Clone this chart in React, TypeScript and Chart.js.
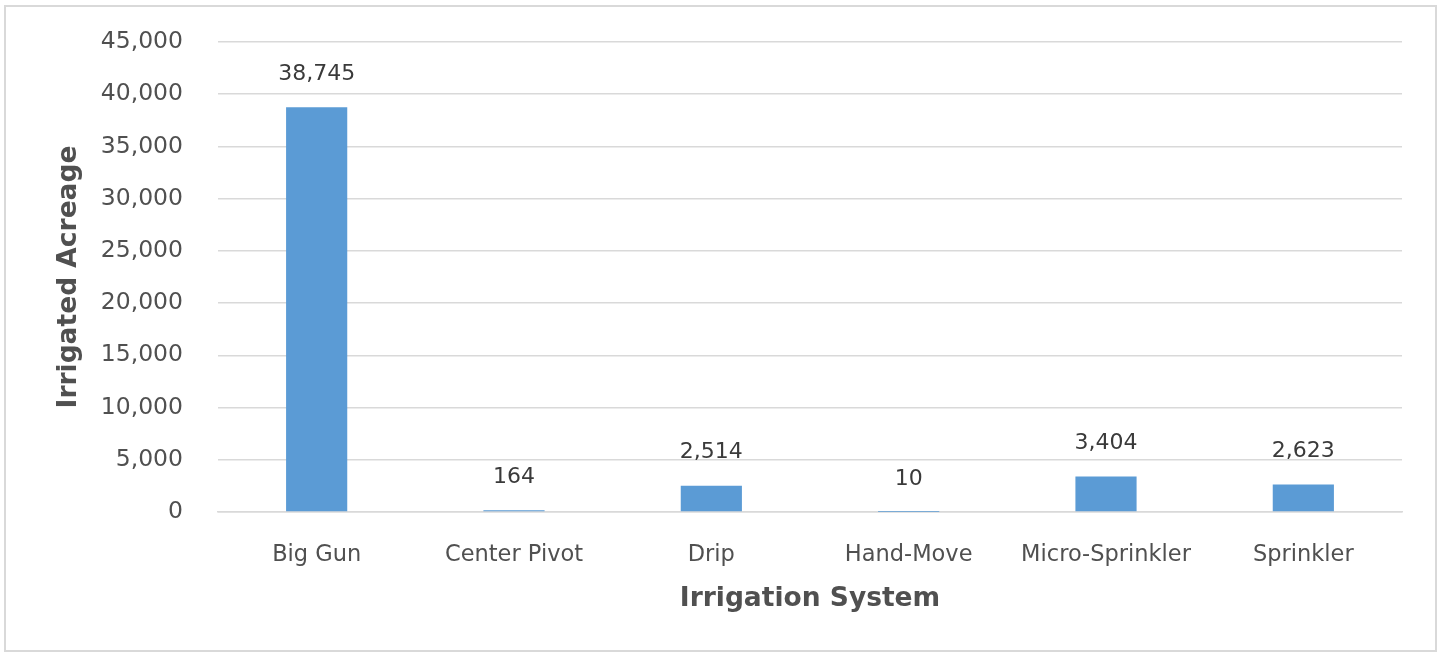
import React, { useEffect, useRef } from "react";
import { Chart, registerables } from "chart.js";

Chart.register(...registerables);

const categories = ["Big Gun", "Center Pivot", "Drip", "Hand-Move", "Micro-Sprinkler", "Sprinkler"];
const acreage = [38745, 164, 2514, 10, 3404, 2623];
const yTicks = [0, 5000, 10000, 15000, 20000, 25000, 30000, 35000, 40000, 45000];

const FONT = "'DejaVu Sans', sans-serif";
const GRAY = "#505050";

const fmt = (v: number) => v.toLocaleString("en-US");

const dataLabels = {
  id: "dataLabels",
  afterDatasetsDraw(chart: any) {
    const ctx = chart.ctx;
    const meta = chart.getDatasetMeta(0);
    ctx.save();
    ctx.font = `22px ${FONT}`;
    ctx.fillStyle = "#3a3a3a";
    ctx.textAlign = "center";
    ctx.textBaseline = "middle";
    meta.data.forEach((bar: any, i: number) => {
      ctx.fillText(fmt(acreage[i]), bar.x, bar.y - 33);
    });
    ctx.restore();
  },
};

export default function App() {
  const ref = useRef<HTMLCanvasElement>(null);
  useEffect(() => {
    if (!ref.current) return;
    const chart = new Chart(ref.current, {
      type: "bar",
      data: {
        labels: categories,
        datasets: [
          {
            data: acreage,
            backgroundColor: "#5B9BD5",
            barPercentage: 0.31,
            categoryPercentage: 1,
          },
        ],
      },
      options: {
        animation: false,
        responsive: false,
        maintainAspectRatio: false,
        layout: { padding: { top: 42, right: 38, bottom: 0, left: 0 } },
        plugins: { legend: { display: false }, tooltip: { enabled: false } },
        scales: {
          x: {
            grid: { display: false },
            border: { color: "#D9D9D9", width: 1.5 },
            ticks: {
              color: GRAY,
              font: { family: FONT, size: 22.5 },
              padding: 22,
              maxRotation: 0,
            },
            title: {
              display: true,
              text: "Irrigation System",
              color: GRAY,
              font: { family: FONT, size: 26.5, weight: "bold" },
              padding: { top: 0, bottom: 41 },
            },
            afterFit: (s: any) => {
              s.height = 144;
            },
          },
          y: {
            min: 0,
            max: 45000,
            afterBuildTicks: (s: any) => {
              s.ticks = yTicks.map((v) => ({ value: v }));
            },
            grid: { color: "#D9D9D9", lineWidth: 1.5, drawTicks: false },
            border: { display: false },
            ticks: {
              color: GRAY,
              font: { family: FONT, size: 23.5 },
              padding: 35,
              callback: (v: any) => fmt(Number(v)),
            },
            title: {
              display: true,
              text: "Irrigated Acreage",
              color: GRAY,
              font: { family: FONT, size: 26.5, weight: "bold" },
              padding: { top: 53, bottom: 0 },
            },
            afterFit: (s: any) => {
              s.width = 218;
              s.paddingTop = 0;
              s.paddingBottom = 0;
            },
          },
        },
      },
      plugins: [dataLabels],
    });
    return () => chart.destroy();
  }, []);

  return (
    <div style={{ position: "fixed", left: 0, top: 0, width: 1440, height: 656, background: "#fff" }}>
      <canvas ref={ref} width={1440} height={656} style={{ position: "absolute", left: 0, top: 0 }} />
      <div
        style={{
          position: "absolute",
          left: 4,
          top: 5,
          width: 1433,
          height: 647,
          border: "2px solid #D9D9D9",
          boxSizing: "border-box",
          pointerEvents: "none",
        }}
      />
    </div>
  );
}
